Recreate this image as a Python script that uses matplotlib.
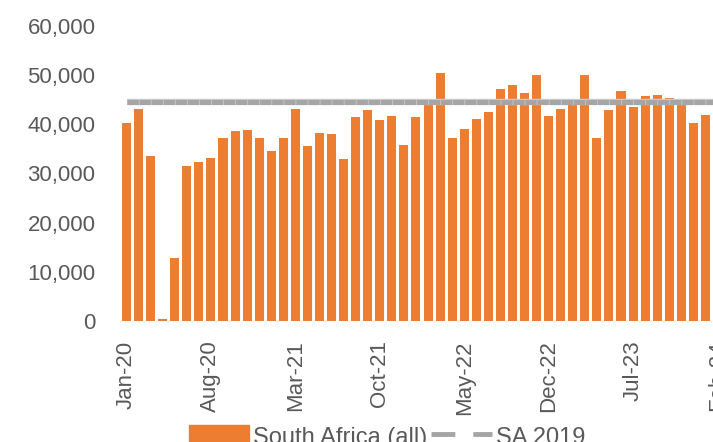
import matplotlib
matplotlib.use("Agg")
import matplotlib.pyplot as plt
from matplotlib.lines import Line2D
from matplotlib.patches import Patch
import pandas as pd

plt.rcParams['font.family'] = ['Liberation Sans', 'DejaVu Sans']

# monthly arrivals, Jan-20 .. Jan-24 (axis runs on to Feb-24)
months = list(pd.date_range('2020-01-01', periods=50, freq='MS').strftime('%b-%y'))
sa_all = [40200, 43200, 33500, 400, 12800, 31500, 32300, 33100, 37200, 38600,
          38800, 37200, 34500, 37200, 43200, 35500, 38200, 38000, 32900, 41400,
          43000, 40800, 41600, 35700, 41400, 44300, 50400, 37200, 39000, 41000,
          42600, 47100, 47900, 46300, 50000, 41600, 43200, 44500, 50000, 37200,
          43000, 46700, 43500, 45700, 45900, 45300, 44600, 40200, 41800]
sa_2019 = [44500] * len(months)

orange = '#ED7D31'
grey = '#A5A5A5'
text_col = '#595959'

fig = plt.figure(figsize=(7.13, 4.42), dpi=100)
# axes run past the right edge of the picture, like the cropped original
ax = fig.add_axes([120.5 / 713, 121 / 442, 603 / 713, 295 / 442])

ax.bar(range(len(sa_all)), sa_all, width=0.75, color=orange, zorder=2)

# the 2019 line: light rim plus darker segments, one per month
n_slots = len(months)
pitch_pt = (603 / 100 * 72) / n_slots
lw = 3.6
ax.plot(range(n_slots), sa_2019, color='#C9C9C9', lw=4.6, zorder=3,
        solid_capstyle='butt')
ax.plot(range(n_slots), sa_2019, color=grey, lw=lw, zorder=4,
        dashes=((pitch_pt - 0.6) / lw, 0.6 / lw), dash_capstyle='butt')

ax.set_xlim(-0.5, n_slots - 0.5)
ax.set_ylim(0, 60000)
ax.set_yticks(range(0, 60001, 10000))
ax.set_yticklabels([f'{v:,}' for v in range(0, 60001, 10000)])
tick_pos = list(range(0, n_slots, 7))
ax.set_xticks(tick_pos)
ax.set_xticklabels([months[i] for i in tick_pos], rotation=90)

ax.tick_params(axis='y', length=0, pad=18, labelsize=16, labelcolor=text_col)
ax.tick_params(axis='x', length=0, pad=14, labelsize=16, labelcolor=text_col)
for s in ax.spines.values():
    s.set_visible(False)

handles = [Patch(color=orange),
           Line2D([0], [0], color=grey, lw=3.5, dashes=(4.9, 3.7),
                  dash_capstyle='butt')]
fig.legend(handles, ['South Africa (all)', 'SA 2019'], loc='upper left',
           bbox_to_anchor=(189 / 713, 17 / 442), ncol=2, frameon=False,
           fontsize=17, labelcolor=text_col, handlelength=2.55,
           handleheight=1.0, handletextpad=0.17, columnspacing=0.17,
           borderpad=0, borderaxespad=0)

fig.savefig('out.png', dpi=100)
